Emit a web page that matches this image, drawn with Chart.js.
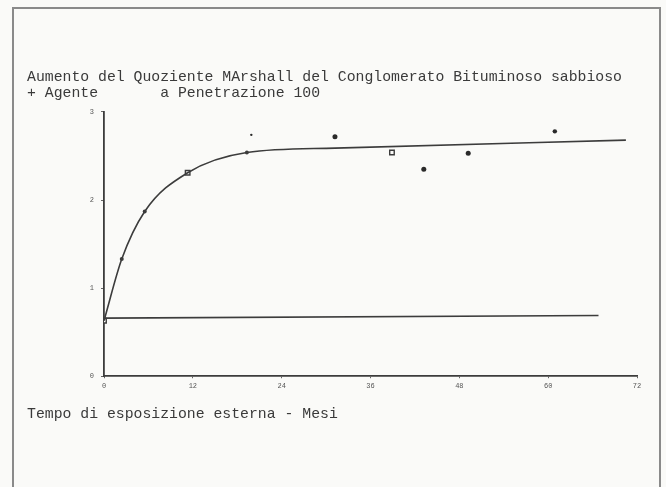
<!DOCTYPE html>
<html>
<head>
<meta charset="utf-8">
<script src="https://cdn.jsdelivr.net/npm/chart.js@4/dist/chart.umd.min.js"></script>
<style>
  html, body { margin: 0; padding: 0; background: #fafaf8; }
  #wrap { width: 666px; height: 487px; position: relative; }
</style>
</head>
<body>
<div id="wrap"><canvas id="c" width="666" height="487"></canvas></div>
<script>
// ---- data ----
const titleLines = [
  "Aumento del Quoziente MArshall del Conglomerato Bituminoso sabbioso",
  "+ Agente       a Penetrazione 100"
];
const xAxisTitle = "Tempo di esposizione esterna - Mesi";
const xTicks = [0, 12, 24, 36, 48, 60, 72];
const yTicks = [0, 1, 2, 3];

// fitted curve (months, quotient)
const curveX = [0, 2.4, 5.5, 11.3, 19.3, 31.2, 70.5];
const curveY = [0.63, 1.33, 1.87, 2.31, 2.54, 2.59, 2.68];

// baseline (reference material)
const baseX = [0, 66.8];
const baseY = [0.66, 0.69];

// small marks on the curve
const markX = [2.4, 5.5, 19.3];
const markY = [1.33, 1.87, 2.54];

// open squares
const squareX = [0, 11.3, 38.9];
const squareY = [0.63, 2.31, 2.54];

// filled dots
const dotX = [19.9, 31.2, 43.2, 49.2, 60.9];
const dotY = [2.74, 2.72, 2.35, 2.53, 2.78];
const dotR = [1.2, 2.5, 2.5, 2.5, 2.2];

const pts = (xs, ys) => xs.map((x, i) => ({ x: x, y: ys[i] }));

const ink = '#3c3c3c';
const monoFont = '"Liberation Mono", "DejaVu Sans Mono", monospace';

const framePlugin = {
  id: 'frame',
  beforeDraw(chart) {
    const ctx = chart.ctx;
    ctx.save();
    ctx.fillStyle = '#fafaf8';
    ctx.fillRect(0, 0, chart.width, chart.height);
    ctx.strokeStyle = '#8a8a8a';
    ctx.lineWidth = 2;
    ctx.beginPath();
    ctx.moveTo(13, chart.height + 5);
    ctx.lineTo(13, 8);
    ctx.lineTo(660, 8);
    ctx.lineTo(660, chart.height + 5);
    ctx.stroke();
    ctx.restore();
  }
};

new Chart(document.getElementById('c'), {
  type: 'scatter',
  data: {
    datasets: [
      {
        type: 'line',
        label: 'curva',
        data: pts(curveX, curveY),
        borderColor: ink,
        borderWidth: 1.6,
        pointRadius: 0,
        cubicInterpolationMode: 'monotone',
        fill: false
      },
      {
        type: 'line',
        label: 'base',
        data: pts(baseX, baseY),
        borderColor: ink,
        borderWidth: 1.6,
        pointRadius: 0,
        fill: false
      },
      {
        label: 'segni',
        data: pts(markX, markY),
        pointRadius: 2,
        pointBackgroundColor: ink,
        pointBorderColor: ink,
        pointBorderWidth: 0
      },
      {
        label: 'quadrati',
        data: pts(squareX, squareY),
        pointStyle: 'rect',
        pointRadius: 3.2,
        pointBackgroundColor: '#fafaf8',
        pointBorderColor: ink,
        pointBorderWidth: 1.4
      },
      {
        label: 'punti',
        data: pts(dotX, dotY),
        pointRadius: dotR,
        pointBackgroundColor: '#2a2a2a',
        pointBorderColor: '#2a2a2a',
        pointBorderWidth: 0
      }
    ]
  },
  options: {
    responsive: false,
    animation: false,
    events: [],
    layout: { padding: { left: 27, right: 29, top: 69, bottom: 64 } },
    plugins: {
      legend: { display: false },
      tooltip: { enabled: false },
      title: {
        display: true,
        text: titleLines,
        align: 'start',
        color: '#3a3a3a',
        font: { family: monoFont, size: 14.8, weight: 'normal', lineHeight: 1.08 },
        padding: { top: 0, bottom: 11 }
      },
      subtitle: {
        display: true,
        position: 'bottom',
        text: xAxisTitle,
        align: 'start',
        color: '#3a3a3a',
        font: { family: monoFont, size: 14.8, weight: 'normal', lineHeight: 1.2 },
        padding: { top: 0, bottom: 0 }
      }
    },
    scales: {
      x: {
        type: 'linear',
        min: 0,
        max: 72,
        afterBuildTicks(scale) { scale.ticks = xTicks.map(v => ({ value: v })); },
        afterFit(scale) { scale.height = 29; },
        ticks: {
          color: '#555',
          font: { family: monoFont, size: 7 },
          padding: 4,
          maxRotation: 0
        },
        grid: { display: true, drawOnChartArea: false, drawTicks: true, tickLength: 2, color: '#666' },
        border: { display: true, color: ink, width: 1.8 }
      },
      y: {
        type: 'linear',
        min: 0,
        max: 3,
        afterBuildTicks(scale) { scale.ticks = yTicks.map(v => ({ value: v })); },
        afterFit(scale) { scale.width = 77; },
        ticks: {
          color: '#555',
          font: { family: monoFont, size: 7 },
          padding: 7
        },
        grid: { display: true, drawOnChartArea: false, drawTicks: true, tickLength: 3, color: '#666' },
        border: { display: true, color: ink, width: 1.8 }
      }
    }
  },
  plugins: [framePlugin]
});
</script>
</body>
</html>
